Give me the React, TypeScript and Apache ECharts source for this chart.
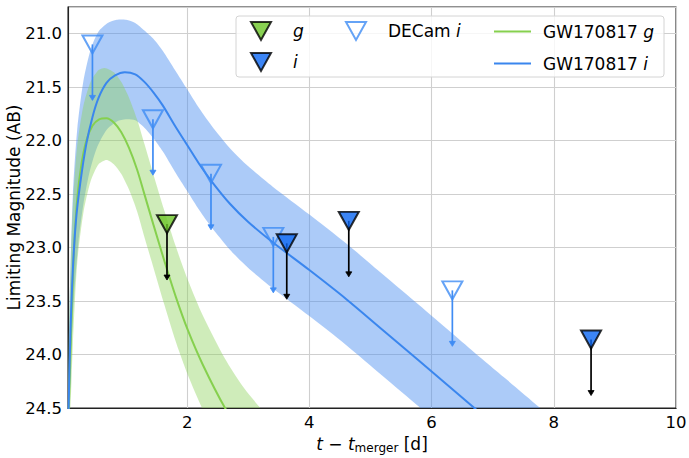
import React, { useEffect, useRef } from 'react';
import * as echarts from 'echarts';

// ---- observations (triangle = limiting magnitude, arrow points fainter) ----
const gObsT = [1.67];
const gObsMag = [22.78];
const iObsT = [3.63, 4.645, 8.61];
const iObsMag = [22.96, 22.75, 23.86];
const decamT = [0.45, 1.44, 2.39, 3.41, 6.34];
const decamMag = [21.1, 21.8, 22.31, 22.9, 23.4];
const ARROW_LEN = 0.5;

// ---- GW170817 g model ----
const gModelT = [0.04, 0.06, 0.08, 0.11, 0.15, 0.2, 0.27, 0.35, 0.45, 0.56, 0.68, 0.8, 0.92, 1.05, 1.18, 1.3, 1.45, 1.63, 1.82, 2.01, 2.26, 2.62, 2.9, 3.2, 3.5];
const gModelMag = [25.0, 24.55, 24.2, 23.62, 23.0, 22.55, 22.22, 22.0, 21.86, 21.8, 21.79, 21.83, 21.92, 22.07, 22.27, 22.5, 22.79, 23.13, 23.47, 23.77, 24.1, 24.5, 24.74, 24.95, 25.12];
const gBrightT = [0.04, 0.06, 0.09, 0.13, 0.2, 0.3, 0.42, 0.55, 0.65, 0.8, 0.92, 1.05, 1.18, 1.3, 1.45, 1.63, 1.82, 2.01, 2.26, 2.62, 2.9, 3.2, 3.5];
const gBrightMag = [24.7, 24.0, 23.2, 22.6, 22.05, 21.68, 21.45, 21.34, 21.32, 21.36, 21.45, 21.6, 21.8, 22.03, 22.32, 22.66, 23.0, 23.3, 23.64, 24.04, 24.29, 24.5, 24.67];
const gFaintT = [0.08, 0.13, 0.2, 0.3, 0.42, 0.55, 0.68, 0.8, 0.92, 1.05, 1.18, 1.3, 1.45, 1.63, 1.82, 2.01, 2.26, 2.4];
const gFaintMag = [24.6, 23.9, 23.15, 22.68, 22.38, 22.22, 22.18, 22.22, 22.31, 22.46, 22.66, 22.9, 23.19, 23.54, 23.89, 24.19, 24.52, 24.65];

// ---- GW170817 i model ----
const iModelT = [0.04, 0.06, 0.09, 0.13, 0.18, 0.25, 0.35, 0.45, 0.55, 0.68, 0.82, 0.98, 1.15, 1.3, 1.45, 1.6, 1.8, 2.0, 2.2, 2.4, 2.7, 3.0, 3.4, 4.0, 4.6, 5.2, 5.8, 6.7, 7.2, 7.8, 8.2];
const iModelMag = [25.2, 24.5, 23.8, 23.2, 22.75, 22.4, 22.03, 21.78, 21.6, 21.46, 21.39, 21.36, 21.38, 21.45, 21.55, 21.67, 21.86, 22.04, 22.22, 22.38, 22.59, 22.76, 22.95, 23.21, 23.48, 23.77, 24.06, 24.5, 24.74, 25.03, 25.22];
const iBrightT = [0.04, 0.06, 0.09, 0.13, 0.2, 0.3, 0.42, 0.55, 0.7, 0.85, 1.0, 1.15, 1.3, 1.45, 1.6, 1.8, 2.0, 2.2, 2.4, 2.7, 3.0, 3.4, 4.0, 4.6, 5.2, 5.8, 6.7, 7.2, 7.8, 8.2];
const iBrightMag = [25.0, 24.0, 23.2, 22.5, 21.9, 21.45, 21.15, 20.98, 20.9, 20.87, 20.87, 20.9, 20.97, 21.05, 21.16, 21.34, 21.52, 21.7, 21.86, 22.07, 22.24, 22.43, 22.69, 22.96, 23.25, 23.54, 23.98, 24.22, 24.51, 24.7];
const iFaintT = [0.07, 0.1, 0.15, 0.22, 0.3, 0.4, 0.52, 0.68, 0.85, 1.0, 1.15, 1.3, 1.45, 1.6, 1.8, 2.0, 2.2, 2.4, 2.7, 3.0, 3.4, 4.0, 4.6, 5.2, 5.8, 6.2];
const iFaintMag = [24.6, 24.0, 23.45, 22.95, 22.6, 22.3, 22.07, 21.9, 21.82, 21.8, 21.81, 21.88, 21.98, 22.1, 22.29, 22.47, 22.65, 22.81, 23.02, 23.19, 23.38, 23.64, 23.91, 24.2, 24.49, 24.68];

// ---- axes ----
const X_MIN = 0.05;
const X_MAX = 10;
const X_TICKS = [2, 4, 6, 8, 10];
const Y_MIN = 20.75;
const Y_MAX = 24.5;
const Y_TICKS = [21.0, 21.5, 22.0, 22.5, 23.0, 23.5, 24.0, 24.5];

const FONT = 'DejaVu Sans';
const G_FILL = '#6cc627';
const I_FILL = '#0b66f2';
const DECAM = '#3f8cf4';
const G_LINE = '#86d04e';
const I_LINE = '#3a86ee';
const G_BAND = 'rgba(140, 210, 90, 0.42)';
const I_BAND = 'rgba(70, 140, 240, 0.45)';
const TRI = 'path://M0,0 L20,0 L10,20 Z';
const LINE_ICON = 'path://M0,0 L37,0 L37,2.2 L0,2.2 Z';

const zip = (a: number[], b: number[]) => a.map((v, k) => [v, b[k]]);

function bandSeries(name: string, upT: number[], upM: number[], loT: number[], loM: number[], fill: string, blend?: string) {
  return {
    type: 'custom',
    name,
    silent: true,
    clip: true,
    z: 2,
    data: [[upT[0], upM[0]]],
    renderItem: (_p: any, api: any) => {
      const pts: number[][] = [];
      for (let k = 0; k < upT.length; k++) pts.push(api.coord([upT[k], upM[k]]));
      for (let k = loT.length - 1; k >= 0; k--) pts.push(api.coord([loT[k], loM[k]]));
      const style: any = { fill, stroke: 'none' };
      if (blend) style.blend = blend;
      return { type: 'polygon', shape: { points: pts, smooth: 0.25 }, style };
    },
  };
}

function arrowSeries(name: string, t: number[], m: number[], color: string) {
  return {
    type: 'custom',
    name,
    silent: true,
    clip: false,
    z: 3,
    data: zip(t, m),
    renderItem: (_p: any, api: any) => {
      const x = api.value(0);
      const y = api.value(1);
      const p0 = api.coord([x, y]);
      const p1 = api.coord([x, y + ARROW_LEN]);
      return {
        type: 'group',
        children: [
          { type: 'line', shape: { x1: p0[0], y1: p0[1], x2: p1[0], y2: p1[1] - 1 }, style: { stroke: color, lineWidth: 1.7 } },
          {
            type: 'polygon',
            shape: { points: [[p1[0] - 3, p1[1] - 2.5], [p1[0] + 3, p1[1] - 2.5], [p1[0], p1[1] + 2.5]] },
            style: { fill: color, stroke: color, lineWidth: 0.8 },
          },
        ],
      };
    },
  };
}

const legendRich = { it: { fontStyle: 'italic', fontSize: 17, fontFamily: FONT, color: '#000' } };
const legendFormatter = (name: string) => {
  if (name === 'g' || name === 'i') return `{it|${name}}`;
  if (name === 'DECam i') return 'DECam {it|i}';
  if (name === 'GW170817 g') return 'GW170817 {it|g}';
  if (name === 'GW170817 i') return 'GW170817 {it|i}';
  return name;
};

export default function App() {
  const ref = useRef<HTMLDivElement>(null);
  useEffect(() => {
    if (!ref.current) return;
    const chart = echarts.init(ref.current, undefined, { renderer: 'svg' });
    const baseText = { fontFamily: FONT, color: '#000' };
    chart.setOption({
      animation: false,
      textStyle: { fontFamily: FONT },
      grid: {
        left: 68,
        right: 13,
        top: 7,
        bottom: 50,
        containLabel: false,
        outerBoundsMode: 'none',
        show: true,
        borderColor: '#222',
        borderWidth: 1.1,
      },
      xAxis: {
        type: 'value',
        min: X_MIN,
        max: X_MAX,
        splitNumber: 5,
        axisLine: { show: true, lineStyle: { color: '#222', width: 1.1 } },
        axisTick: { show: false },
        splitLine: { show: true, lineStyle: { color: '#cfcfcf', width: 1.1 } },
        axisLabel: {
          ...baseText,
          fontSize: 16.5,
          margin: 6,
          formatter: (v: number) => (X_TICKS.some((t) => Math.abs(t - v) < 1e-6) ? String(Math.round(v)) : ''),
        },
        name: '{it|t} − {it|t}{sub|merger} [d]',
        nameLocation: 'middle',
        nameGap: 25,
        nameMoveOverlap: false,
        nameTextStyle: {
          ...baseText,
          fontSize: 17,
          rich: {
            it: { fontStyle: 'italic', fontSize: 17, fontFamily: FONT, color: '#000' },
            sub: { fontSize: 12, fontFamily: FONT, color: '#000', padding: [9, 0, 0, 0] },
          },
        },
      },
      yAxis: {
        type: 'value',
        inverse: true,
        min: Y_MIN,
        max: Y_MAX,
        splitNumber: 8,
        axisLine: { show: true, lineStyle: { color: '#222', width: 1.1 } },
        axisTick: { show: false },
        splitLine: { show: true, lineStyle: { color: '#cfcfcf', width: 1.1 } },
        axisLabel: {
          ...baseText,
          fontSize: 16.5,
          margin: 6,
          formatter: (v: number) => (Y_TICKS.some((t) => Math.abs(t - v) < 1e-6) ? v.toFixed(1) : ''),
        },
        name: 'Limiting Magnitude (AB)',
        nameLocation: 'middle',
        nameGap: 46,
        nameMoveOverlap: false,
        nameTextStyle: { ...baseText, fontSize: 17 },
      },
      graphic: [
        {
          type: 'rect',
          z: 20,
          shape: { x: 236, y: 16, width: 428, height: 61, r: 3 },
          style: { fill: 'rgba(255,255,255,0.8)', stroke: '#d4d4d4', lineWidth: 1 },
        },
      ],
      legend: [
        {
          z: 30,
          left: 250,
          top: 21,
          orient: 'vertical',
          padding: 0,
          itemGap: 11,
          itemWidth: 20,
          itemHeight: 18,
          symbolKeepAspect: false,
          selectedMode: false,
          data: [
            { name: 'g', icon: TRI, itemStyle: { color: G_FILL, borderColor: '#000', borderWidth: 2 } },
            { name: 'i', icon: TRI, itemStyle: { color: I_FILL, borderColor: '#000', borderWidth: 2 } },
          ],
          formatter: legendFormatter,
          textStyle: { ...baseText, fontSize: 17, padding: [0, 0, 0, 17], rich: legendRich },
        },
        {
          z: 30,
          left: 345,
          top: 21,
          orient: 'vertical',
          padding: 0,
          itemWidth: 20,
          itemHeight: 18,
          symbolKeepAspect: false,
          selectedMode: false,
          data: [{ name: 'DECam i', icon: TRI, itemStyle: { color: 'rgba(0,0,0,0)', borderColor: DECAM, borderWidth: 2 } }],
          formatter: legendFormatter,
          textStyle: { ...baseText, fontSize: 17, padding: [0, 0, 0, 17], rich: legendRich },
        },
        {
          z: 30,
          left: 494,
          top: 23,
          orient: 'vertical',
          padding: 0,
          itemGap: 15,
          itemWidth: 37,
          itemHeight: 14,
          symbolKeepAspect: true,
          selectedMode: false,
          data: [
            { name: 'GW170817 g', icon: LINE_ICON, itemStyle: { color: G_LINE, borderWidth: 0 } },
            { name: 'GW170817 i', icon: LINE_ICON, itemStyle: { color: I_LINE, borderWidth: 0 } },
          ],
          formatter: legendFormatter,
          textStyle: { ...baseText, fontSize: 17, padding: [0, 0, 0, 7], rich: legendRich },
        },
      ],
      series: [
        bandSeries('i band', iBrightT, iBrightMag, iFaintT, iFaintMag, I_BAND),
        bandSeries('g band', gBrightT, gBrightMag, gFaintT, gFaintMag, G_BAND, 'multiply'),
        {
          type: 'line',
          name: 'GW170817 g',
          data: zip(gModelT, gModelMag),
          showSymbol: false,
          symbol: 'none',
          smooth: 0.3,
          silent: true,
          z: 2,
          lineStyle: { color: G_LINE, width: 2 },
          itemStyle: { color: G_LINE },
        },
        {
          type: 'line',
          name: 'GW170817 i',
          data: zip(iModelT, iModelMag),
          showSymbol: false,
          symbol: 'none',
          smooth: 0.3,
          silent: true,
          z: 2,
          lineStyle: { color: I_LINE, width: 2 },
          itemStyle: { color: I_LINE },
        },
        arrowSeries('DECam i arrows', decamT, decamMag, DECAM),
        arrowSeries('g arrows', gObsT, gObsMag, '#000'),
        arrowSeries('i arrows', iObsT, iObsMag, '#000'),
        {
          type: 'scatter',
          name: 'DECam i',
          data: zip(decamT, decamMag),
          symbol: TRI,
          symbolSize: [20, 18],
          silent: true,
          z: 4,
          itemStyle: { color: 'rgba(0,0,0,0)', borderColor: DECAM, borderWidth: 2 },
        },
        {
          type: 'scatter',
          name: 'g',
          data: zip(gObsT, gObsMag),
          symbol: TRI,
          symbolSize: [20, 18],
          silent: true,
          z: 4,
          itemStyle: { color: G_FILL, borderColor: '#000', borderWidth: 2 },
        },
        {
          type: 'scatter',
          name: 'i',
          data: zip(iObsT, iObsMag),
          symbol: TRI,
          symbolSize: [20, 18],
          silent: true,
          z: 4,
          itemStyle: { color: I_FILL, borderColor: '#000', borderWidth: 2 },
        },
      ],
    });
    return () => chart.dispose();
  }, []);
  return <div ref={ref} style={{ position: 'absolute', left: 0, top: 0, width: 689, height: 458 }} />;
}
